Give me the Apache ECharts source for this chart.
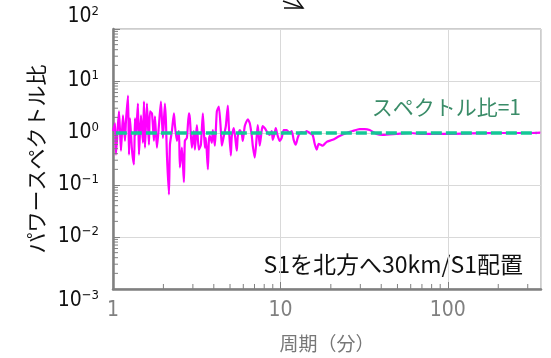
<!DOCTYPE html>
<html><head><meta charset="utf-8">
<script src="https://cdn.jsdelivr.net/npm/echarts@6/dist/echarts.min.js"></script>
<style>html,body{margin:0;padding:0;background:#fff}#c{width:551px;height:358px}</style>
</head><body><div id="c"></div>
<script>
// period (minutes)
const periods = [1.00,1.028,1.042,1.071,1.086,1.116,1.147,1.179,1.195,1.229,1.246,1.263,1.298,1.334,1.353,1.371,1.409,1.429,1.469,1.510,1.531,1.552,1.595,1.639,1.663,1.709,1.756,1.780,1.830,1.881,1.933,1.987,2.042,2.071,2.099,2.158,2.188,2.248,2.311,2.343,2.408,2.475,2.509,2.579,2.651,2.687,2.762,2.839,2.878,2.958,3.041,3.083,3.169,3.257,3.348,3.441,3.537,3.586,3.686,3.737,3.788,3.894,3.948,4.058,4.171,4.287,4.406,4.467,4.592,4.719,4.851,4.918,5.054,5.124,5.267,5.414,5.488,5.565,5.719,5.879,5.960,6.126,6.383,6.561,6.744,6.837,7.027,7.223,7.323,7.526,7.736,7.843,8.061,8.401,8.636,8.876,8.999,9.248,9.376,9.637,9.904,10.18,10.46,10.90,11.36,11.68,12.00,12.34,12.68,13.04,13.40,13.96,14.35,14.95,15.58,16.02,16.46,16.92,17.39,17.88,18.89,20.51,22.58,24.85,26.98,29.71,31.82,34.09,37.52,40.74,49.36,59.02,70.55,92.86,134.5,203.1,306.7,356.6];
// power spectrum ratio
const ratios = [1.09,1.54,0.384,1.48,2.60,0.458,2.19,0.707,1.68,5.21,0.384,1.92,0.478,0.248,1.92,0.917,3.68,0.384,2.19,0.648,4.02,0.521,3.68,0.594,2.60,2.38,0.707,2.09,0.521,1.42,4.02,0.805,3.68,1.68,0.384,0.0656,0.594,1.09,2.38,1.42,0.707,1.09,0.219,0.521,0.114,0.707,0.805,2.38,1.92,0.521,1.09,0.478,1.42,0.478,0.594,2.38,0.521,0.805,0.200,0.707,0.878,0.648,1.14,0.569,2.60,3.23,1.14,0.569,0.878,1.36,3.38,1.36,0.368,0.878,1.24,0.648,0.458,0.878,1.14,0.958,0.707,1.36,1.84,1.54,0.878,0.569,0.337,0.878,1.42,0.569,1.14,1.36,1.24,1.00,0.917,1.09,0.738,1.00,1.24,0.878,0.707,0.805,1.14,1.14,1.00,1.09,0.738,0.594,0.805,1.00,1.04,1.00,1.09,1.00,0.917,0.620,0.478,0.620,0.594,0.569,0.676,0.738,0.878,1.00,1.09,1.19,1.19,1.14,0.958,0.917,0.958,1.00,0.958,0.958,0.98,1.00,1.00,1.02];
// reference line (ratio = 1)
const refPeriods = [1.04, 337];
const refRatios = [1, 1];
// axis ranges and minor tick values
const xRange = [1, 360];
const yRange = [0.001, 100];
const xMinorTicks = [2,3,4,5,6,7,8,9,20,30,40,50,60,70,80,90,200,300];
const yMinorTicks = [0.002,0.003,0.004,0.005,0.006,0.007,0.008,0.009,0.02,0.03,0.04,0.05,0.06,0.07,0.08,0.09,0.2,0.3,0.4,0.5,0.6,0.7,0.8,0.9,2,3,4,5,6,7,8,9,20,30,40,50,60,70,80,90];
const yName = 'パワースペクトル比';
const xName = '周期（分）';
const refLabel = 'スペクトル比=1';
const caseLabel = 'S1を北方へ30km/S1配置';

const chart = echarts.init(document.getElementById('c'));
const narrow = "'Liberation Sans Narrow','DejaVu Sans Condensed',sans-serif";
const cjk = "'Noto Sans CJK JP',sans-serif";
chart.setOption({
  animation: false,
  grid: {left: 113, right: 10, top: 29, bottom: 64, show: true, borderColor: '#9a9a9a', borderWidth: 1},
  xAxis: {
    type: 'log', logBase: 10, min: xRange[0], max: xRange[1],
    name: xName, nameLocation: 'middle', nameGap: 45,
    nameTextStyle: {fontFamily: cjk, fontSize: 19, color: '#777'},
    axisLine: {show: true, lineStyle: {color: '#808080', width: 2.5}},
    axisTick: {show: true, inside: true, length: 7, lineStyle: {color: '#808080'}},
    axisLabel: {fontFamily: narrow, fontSize: 21, color: '#808080', margin: 11, showMaxLabel: false,
      formatter: v => String(Math.round(v))},
    splitLine: {show: true, lineStyle: {color: '#d9d9d9', width: 1}}
  },
  yAxis: {
    type: 'log', logBase: 10, min: yRange[0], max: yRange[1],
    name: yName, nameLocation: 'middle', nameGap: 62, nameRotate: 90,
    nameTextStyle: {fontFamily: cjk, fontSize: 21, color: '#111'},
    axisLine: {show: true, lineStyle: {color: '#808080', width: 2.5}},
    axisTick: {show: true, inside: true, length: 7, lineStyle: {color: '#808080'}},
    axisLabel: {
      margin: 14, color: '#111',
      verticalAlignMinLabel: 'top', verticalAlignMaxLabel: 'bottom',
      formatter: v => {
        const e = Math.round(Math.log10(v));
        return '{b|10}{s|' + (e < 0 ? '\u2212' + (-e) : e) + '}';
      },
      rich: {
        b: {fontFamily: narrow, fontSize: 21, color: '#111', lineHeight: 24},
        s: {fontFamily: narrow, fontSize: 13, color: '#111', verticalAlign: 'top', lineHeight: 13}
      }
    },
    splitLine: {show: true, lineStyle: {color: '#d9d9d9', width: 1}}
  },
  series: [
    {
      type: 'line', data: periods.map((p, i) => [p, ratios[i]]),
      showSymbol: false, smooth: 0.2,
      lineStyle: {color: '#ff00ff', width: 2.2}, z: 3
    },
    {
      type: 'line', data: refPeriods.map((p, i) => [p, refRatios[i]]),
      showSymbol: false,
      lineStyle: {color: '#14c896', width: 3.5, type: [11, 4]}, z: 4
    },
    {
      type: 'custom', silent: true, z: 5, clip: false,
      data: xMinorTicks.map(v => [v, yRange[0]]),
      renderItem: (params, api) => {
        const p = api.coord([api.value(0), api.value(1)]);
        return {type: 'line', shape: {x1: p[0], y1: p[1], x2: p[0], y2: p[1] - 5},
          style: {stroke: '#808080', lineWidth: 1}};
      }
    },
    {
      type: 'custom', silent: true, z: 5, clip: false,
      data: yMinorTicks.map(v => [xRange[0], v]),
      renderItem: (params, api) => {
        const p = api.coord([api.value(0), api.value(1)]);
        return {type: 'line', shape: {x1: p[0], y1: p[1], x2: p[0] + 5, y2: p[1]},
          style: {stroke: '#808080', lineWidth: 1}};
      }
    }
  ],
  graphic: [
    {type: 'text', right: 30, top: 97, style: {text: refLabel, font: "21px 'Noto Sans CJK JP'", fill: '#3a8c68'}},
    {type: 'text', right: 28, top: 253, style: {text: caseLabel, font: "23px 'Noto Sans CJK JP'", fill: '#111'}},
    {type: 'polyline', shape: {points: [[283, 1], [303, 8]]}, style: {stroke: '#111', lineWidth: 1.5}},
    {type: 'polyline', shape: {points: [[284, 8], [303, 8], [297, 0]]}, style: {stroke: '#111', lineWidth: 1.5, fill: null}}
  ]
});
</script>
</body></html>
